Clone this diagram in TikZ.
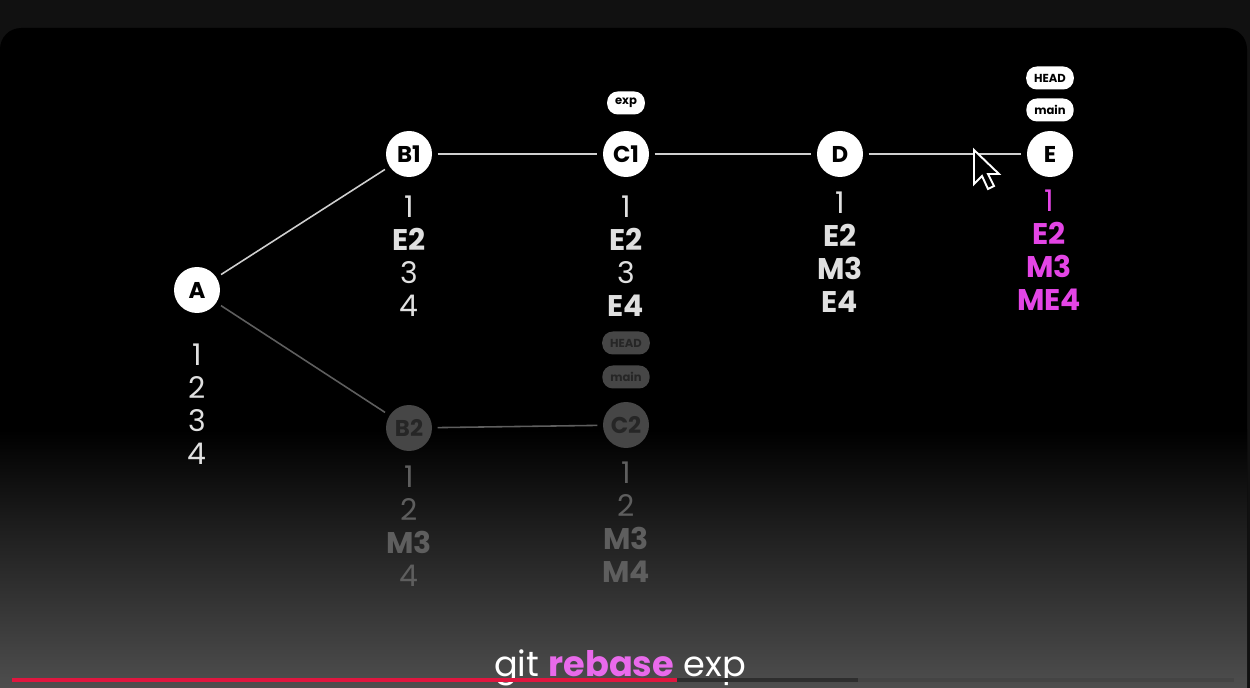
\documentclass[tikz,border=0pt]{standalone}
\usepackage{fontspec}
\setmainfont{Poppins}
\usepackage{tikz}
\usetikzlibrary{calc,positioning}
\definecolor{bandgray}{HTML}{111111}
\definecolor{floorgray}{HTML}{4E4E4E}
\definecolor{linkgray}{HTML}{CFCFCF}
\definecolor{oldgray}{HTML}{464646}
\definecolor{oldtext}{HTML}{5E5E5E}
\definecolor{rebasepink}{HTML}{E445E6}
\definecolor{barred}{HTML}{E0163F}
\definecolor{barload}{HTML}{2E2E2E}
\definecolor{barrest}{HTML}{444444}

\begin{document}
\begin{tikzpicture}[
  x=0.02cm,y=-0.02cm,
  every node/.style={font=\fontsize{13}{15}\selectfont},
  commit/.style={circle,fill=white,text=black,minimum size=0.92cm,inner sep=0pt,font=\bfseries\fontsize{13}{15}\selectfont},
  oldcommit/.style={commit,fill=oldgray,text=black!85},
  tag/.style={rounded corners=6pt,fill=white,text=black,minimum height=0.46cm,inner xsep=4.5pt,inner ysep=0pt,font=\bfseries\fontsize{6.6}{8}\selectfont},
  oldtag/.style={tag,fill=oldgray,text=black!85},
  files/.style={anchor=north,align=center,text=white!88!black,font=\fontsize{17}{18.7}\selectfont},
  oldfiles/.style={files,text=oldtext},
  link/.style={draw=linkgray,line width=0.9pt,shorten <=3pt,shorten >=3pt},
  oldlink/.style={link,draw=oldtext},
]
\useasboundingbox (0,0) rectangle (1250,688);
% screen
\fill[bandgray] (0,0) rectangle (1250,688);
\fill[black,rounded corners=12pt] (0,28) rectangle (1247,720);
\shade[top color=black,bottom color=floorgray] (0,430) rectangle (1247,688);

% commits
\node[commit] (A) at (197,290) {A};
\node[commit] (B1) at (409,154) {B1};
\node[commit] (C1) at (626,154) {C1};
\node[commit] (D) at (840,154) {D};
\node[commit] (E) at (1050,154) {E};
\node[oldcommit] (B2) at (409,428) {B2};
\node[oldcommit] (C2) at (626,425) {C2};

\draw[link] (A) -- (B1);
\draw[link] (B1) -- (C1);
\draw[link] (C1) -- (D);
\draw[link] (D) -- (E);
\draw[oldlink] (A) -- (B2);
\draw[oldlink] (B2) -- (C2);

% branch pointers
\node[tag] (expTag) at (626,103) {exp};
\node[tag] (mainE) at (1050,110) {main};
\node[tag] (headE) at (1050,78) {HEAD};
\node[oldtag] (headC2) at (626,343) {HEAD};
\node[oldtag] (mainC2) at (626,377) {main};

% file contents
\node[files] (listA) at (197,338) {1\\2\\3\\4};
\node[files] (listB1) at (409,190) {1\\\textbf{E2}\\3\\4};
\node[files] (listC1) at (626,190) {1\\\textbf{E2}\\3\\\textbf{E4}};
\node[files,font=\bfseries\fontsize{17}{18.7}\selectfont] (listD) at (840,186) {\mdseries 1\\E2\\M3\\E4};
\node[files,text=rebasepink,font=\bfseries\fontsize{17}{18.7}\selectfont] (listE) at (1049,184) {\mdseries 1\\E2\\M3\\ME4};
\node[oldfiles] (listB2) at (409,460) {1\\2\\\textbf{M3}\\4};
\node[oldfiles] (listC2) at (626,456) {1\\2\\\textbf{M3}\\\textbf{M4}};

% mouse pointer
\coordinate (tip) at (974,150);
\draw[white,fill=black,line width=1.1pt,line join=miter]
  (tip) -- ++(0,34) -- ++(8,-8) -- ++(6,13) -- ++(6,-3) -- ++(-6,-12) -- ++(11,0) -- cycle;

% caption and progress bar
\node[text=white,font=\fontsize{20}{22}\selectfont] (caption) at (620,668)
  {git \textcolor{rebasepink!80!white}{\bfseries rebase} exp};
\coordinate (barStart) at (12,680);
\coordinate (barPlay) at (677,680);
\coordinate (barLoad) at (858,680);
\coordinate (barEnd) at (1234,680);
\draw[barload,line width=2.2pt] (barPlay) -- (barLoad);
\draw[barrest,line width=2.2pt] (barLoad) -- (barEnd);
\draw[barred,line width=2.2pt] (barStart) -- (barPlay);
\end{tikzpicture}
\end{document}
